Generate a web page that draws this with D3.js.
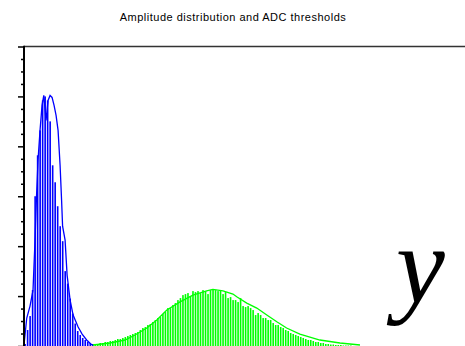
<!DOCTYPE html>
<html><head><meta charset="utf-8">
<script src="https://cdn.jsdelivr.net/npm/d3@7"></script>
<style>html,body{margin:0;padding:0;background:#fff;}svg{display:block;}</style>
</head><body>
<script>
const title = "Amplitude distribution and ADC thresholds";
// histogram bins (amplitude channel index) and counts
const blueBins = [0,1,2,3,4,5,6,7,8,9,10,11,12,13,14,15,16,17,18,19,20,21,22,23,24,25,26,27];
const blueCounts = [8,64,120,224,600,764,864,984,1000,984,900,724,656,560,480,420,300,250,190,130,90,60,44,32,24,16,12,8];
const greenBins = d3.range(28,131);
const greenCounts = [8,8,12,12,16,16,20,20,24,28,28,32,36,40,44,48,52,56,64,72,76,84,88,96,104,112,116,128,136,152,152,164,172,184,192,204,208,212,200,220,216,220,212,224,220,208,224,228,224,220,224,208,216,192,196,184,184,176,192,160,156,160,152,144,124,132,124,112,112,104,104,92,84,84,76,72,64,60,52,48,44,40,36,32,28,24,24,20,16,16,12,12,8,8,6,6,4,4,4,2,2,2,2];
// smoothed distribution curves
const blueLineX = [0,1.1,2.4,3.6,4.4,5.0,5.6,6.4,7.2,7.9,8.8,9.6,10.4,11.2,12.0,12.8,13.6,14.4,15.0,15.4,16.4,17.2,18.4,19.6,21.6,23.2,25.0,27.1];
const blueLineY = [4,112,160,224,424,600,744,864,964,1004,904,984,1004,996,964,924,864,724,584,480,424,284,184,124,76,48,24,4];
const greenLineX = [27.5,34.3,40.3,44.3,49.0,53.0,57.0,62.3,67.4,72.9,75.4,79.4,83.4,84.9,88.9,92.9,96.9,100.9,104.8,110.1,118.1,126.1,134.1];
const greenLineY = [4,12,24,44,72,104,144,177,204,221,227,221,208,197,172,152,124,97,72,48,24,12,4];
const yMajor = [0,200,400,600,800,1000,1200];
const yMinor = d3.range(0,1201,50);

const W=465,H=346;
const svg=d3.select("body").append("svg").attr("width",W).attr("height",H);
const x=d3.scaleLinear().domain([0,176]).range([24,465]);
const y=d3.scaleLinear().domain([0,1200]).range([346,46.5]);
const step=x(1)-x(0);

svg.append("text").attr("x",233).attr("y",21).attr("text-anchor","middle")
  .attr("font-family","Liberation Sans, Arial, sans-serif").attr("font-size",11).attr("letter-spacing",0.5)
  .attr("fill","#000").text(title);

svg.append("g").selectAll("rect").data(blueBins).join("rect")
  .attr("x",d=>x(d)+0.3).attr("width",step-0.9)
  .attr("y",(d,i)=>y(blueCounts[i])).attr("height",(d,i)=>y(0)-y(blueCounts[i]))
  .attr("fill","#0000ff");
svg.append("g").selectAll("rect").data(greenBins).join("rect")
  .attr("x",d=>x(d)+0.3).attr("width",step-0.9)
  .attr("y",(d,i)=>y(greenCounts[i])).attr("height",(d,i)=>y(0)-y(greenCounts[i]))
  .attr("fill","#00ff00");

const line=d3.line().x(d=>x(d[0])).y(d=>y(d[1]));
svg.append("path").attr("d",line(blueLineX.map((v,i)=>[v,blueLineY[i]]))).attr("fill","none").attr("stroke","#0000ff").attr("stroke-width",1.3);
svg.append("path").attr("d",line(greenLineX.map((v,i)=>[v,greenLineY[i]]))).attr("fill","none").attr("stroke","#00ff00").attr("stroke-width",1.3);

// frame top line
svg.append("line").attr("x1",24).attr("x2",465).attr("y1",y(1200)).attr("y2",y(1200)).attr("stroke","#333").attr("stroke-width",1.5);
// left axis
const ax=svg.append("g").attr("transform","translate(24,0)")
  .call(d3.axisLeft(y).tickValues(yMinor).tickSize(3).tickFormat(""));
ax.select(".domain").remove();
ax.selectAll(".tick line").attr("stroke","#000").attr("stroke-width",1.5)
  .attr("x2",d=>yMajor.includes(d)?-6:-3);
svg.append("line").attr("x1",24).attr("x2",24).attr("y1",y(1200)-0.7).attr("y2",H).attr("stroke","#000").attr("stroke-width",2);

svg.append("text").attr("x",396).attr("y",303).attr("font-family","Liberation Serif, Times New Roman, serif")
  .attr("font-style","italic").attr("font-size",110).attr("fill","#000").text("y");
</script>
</body></html>
